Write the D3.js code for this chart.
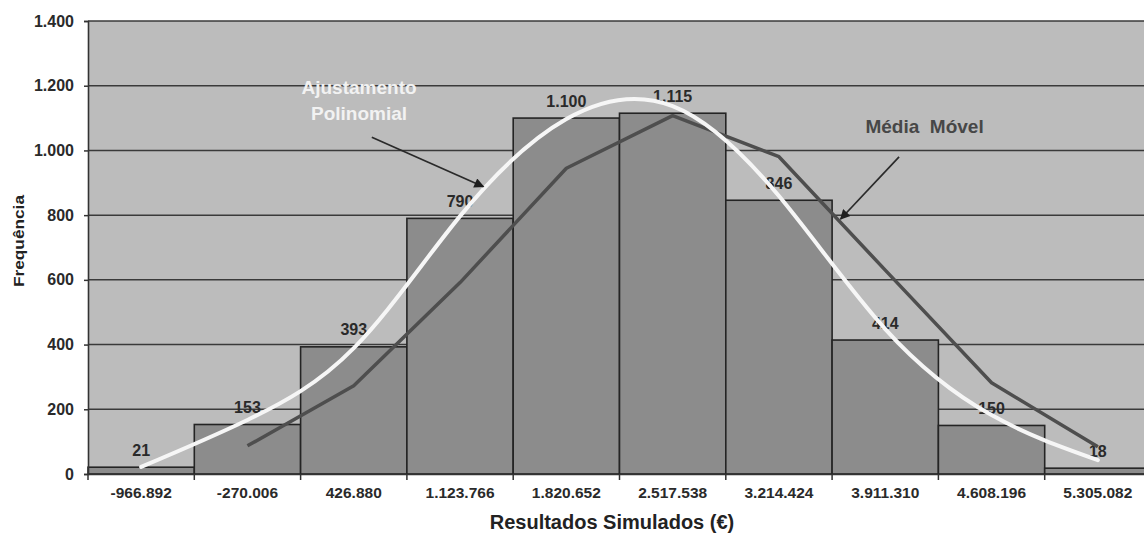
<!DOCTYPE html>
<html>
<head>
<meta charset="utf-8">
<script src="https://cdn.jsdelivr.net/npm/d3@7"></script>
<style>
  body { margin: 0; background: #fff; }
  svg { display: block; font-family: "Liberation Sans", Arial, sans-serif; }
</style>
</head>
<body>
<div id="container"></div>
<script>
// classes of the simulated results (bar labels)
const classes = ['-966.892', '-270.006', '426.880', '1.123.766', '1.820.652',
  '2.517.538', '3.214.424', '3.911.310', '4.608.196', '5.305.082'];
// frequency of each class
const frequencies = [21, 153, 393, 790, 1100, 1115, 846, 414, 150, 18];
// 2-period moving average (first class has none)
const movingAverage = [null, 87, 273, 591.5, 945, 1107.5, 980.5, 630, 282, 84];
// polynomial fit read at each class centre
const polynomialFit = [22, 167, 389, 797, 1097, 1137, 859, 448, 182, 43];
const yTicks = [0, 200, 400, 600, 800, 1000, 1200, 1400];

const width = 1144; const height = 539;
const margin = {top: 21, right: -7, bottom: 65, left: 88};

const pt = d3.formatLocale({decimal: ',', thousands: '.', grouping: [3], currency: ['', '€']});
const fmt = pt.format(',d');

const svg = d3.select('#container').append('svg')
    .attr('width', width)
    .attr('height', height);

const x = d3.scaleBand()
    .domain(classes)
    .range([margin.left, width - margin.right])
    .paddingInner(0).paddingOuter(0);
// continuous position in class units, 0 = left edge of first bar
const xi = d3.scaleLinear()
    .domain([0, classes.length])
    .range([margin.left, width - margin.right]);
const y = d3.scaleLinear()
    .domain([0, 1400])
    .range([height - margin.bottom, margin.top]);
const y0 = y(0);

// plot area
svg.append('rect')
    .attr('x', margin.left).attr('y', margin.top)
    .attr('width', xi(classes.length) - margin.left)
    .attr('height', y0 - margin.top)
    .attr('fill', '#bcbcbc');

// gridlines
svg.append('g').selectAll('line')
    .data(yTicks.filter((d) => d > 0))
    .join('line')
    .attr('x1', margin.left).attr('x2', xi(classes.length))
    .attr('y1', (d) => y(d)).attr('y2', (d) => y(d))
    .attr('stroke', '#3a3a3a').attr('stroke-width', 1.5);

// bars
svg.append('g').selectAll('rect')
    .data(frequencies)
    .join('rect')
    .attr('x', (d, i) => x(classes[i]))
    .attr('y', (d) => y(d))
    .attr('width', x.bandwidth())
    .attr('height', (d) => y0 - y(d))
    .attr('fill', '#8c8c8c')
    .attr('stroke', '#242424')
    .attr('stroke-width', 1.6);

// bar value labels
svg.append('g').selectAll('text')
    .data(frequencies)
    .join('text')
    .attr('x', (d, i) => x(classes[i]) + x.bandwidth() / 2)
    .attr('y', (d) => y(d) - 11.5)
    .attr('text-anchor', 'middle')
    .attr('font-size', 16)
    .attr('font-weight', 'bold')
    .attr('fill', '#2a2a2a')
    .text((d) => fmt(d));

// moving average line
const maLine = d3.line()
    .defined((d) => d != null)
    .x((d, i) => xi(i + 0.5))
    .y((d) => y(d));
svg.append('path')
    .datum(movingAverage)
    .attr('d', maLine)
    .attr('fill', 'none')
    .attr('stroke', '#4e4e4e')
    .attr('stroke-width', 3.5)
    .attr('stroke-linejoin', 'round');

// polynomial fit curve
const polyLine = d3.line()
    .x((d, i) => xi(i + 0.5))
    .y((d) => y(d))
    .curve(d3.curveNatural);
svg.append('path')
    .datum(polynomialFit)
    .attr('d', polyLine)
    .attr('fill', 'none')
    .attr('stroke', '#f6f6f6')
    .attr('stroke-width', 4)
    .attr('stroke-linecap', 'round');

// y axis
const yAxis = svg.append('g')
    .attr('transform', 'translate(' + margin.left + ',0)')
    .call(d3.axisLeft(y).tickValues(yTicks).tickSize(4).tickPadding(10).tickFormat(fmt));
yAxis.select('.domain').attr('stroke', '#333').attr('stroke-width', 1.6);
yAxis.selectAll('.tick line').attr('stroke', '#333').attr('stroke-width', 1.5);
yAxis.selectAll('text').attr('font-size', 16).attr('font-weight', 'bold')
    .attr('fill', '#2a2a2a').attr('font-family', null);

// x axis
const xAxis = svg.append('g')
    .attr('transform', 'translate(0,' + y0 + ')')
    .call(d3.axisBottom(x).tickSize(0).tickPadding(13));
xAxis.select('.domain').attr('stroke', '#333').attr('stroke-width', 1.6);
xAxis.selectAll('text').attr('font-size', 15.5).attr('font-weight', 'bold')
    .attr('fill', '#2a2a2a').attr('font-family', null);
xAxis.selectAll('.edge')
    .data(d3.range(classes.length + 1))
    .join('line')
    .attr('class', 'edge')
    .attr('x1', (d) => xi(d)).attr('x2', (d) => xi(d))
    .attr('y1', 0).attr('y2', 6)
    .attr('stroke', '#333').attr('stroke-width', 1.5);

// axis titles
svg.append('text')
    .attr('x', 612).attr('y', y0 + 55)
    .attr('text-anchor', 'middle')
    .attr('font-size', 20).attr('font-weight', 'bold')
    .attr('fill', '#222')
    .text('Resultados Simulados (€)');
svg.append('text')
    .attr('transform', 'translate(24,' + (y(720)) + ') rotate(-90)')
    .attr('text-anchor', 'middle')
    .attr('font-size', 15.5).attr('font-weight', 'bold')
    .attr('textLength', 92).attr('lengthAdjust', 'spacingAndGlyphs')
    .attr('fill', '#222')
    .text('Frequência');

// annotations (placed in class units / frequency units)
const defs = svg.append('defs');
defs.append('marker')
    .attr('id', 'arrow')
    .attr('viewBox', '0 0 10 10')
    .attr('refX', 9).attr('refY', 5)
    .attr('markerWidth', 11).attr('markerHeight', 10)
    .attr('markerUnits', 'userSpaceOnUse')
    .attr('orient', 'auto')
    .append('path')
    .attr('d', 'M0,0L10,5L0,10z')
    .attr('fill', '#1e1e1e');

const notes = [
  {lines: ['Ajustamento', 'Polinomial'], cx: 2.55, cy: 1174, color: '#f2f2f2',
    from: [2.67, 1041], to: [3.72, 888]},
  {lines: ['Média  Móvel'], cx: 7.87, cy: 1054, color: '#474747',
    from: [7.63, 980], to: [7.08, 788]},
];
notes.forEach((n) => {
  const t = svg.append('text')
      .attr('x', xi(n.cx)).attr('y', y(n.cy))
      .attr('text-anchor', 'middle')
      .attr('font-weight', 'bold')
      .attr('font-size', 19)
      .attr('fill', n.color)
      .style('white-space', 'pre');
  n.lines.forEach((l, i) => {
    t.append('tspan').attr('x', xi(n.cx)).attr('dy', i ? 26 : 0).text(l);
  });
  svg.append('line')
      .attr('x1', xi(n.from[0])).attr('y1', y(n.from[1]))
      .attr('x2', xi(n.to[0])).attr('y2', y(n.to[1]))
      .attr('stroke', '#2a2a2a').attr('stroke-width', 1.7)
      .attr('marker-end', 'url(#arrow)');
});
</script>
</body>
</html>
